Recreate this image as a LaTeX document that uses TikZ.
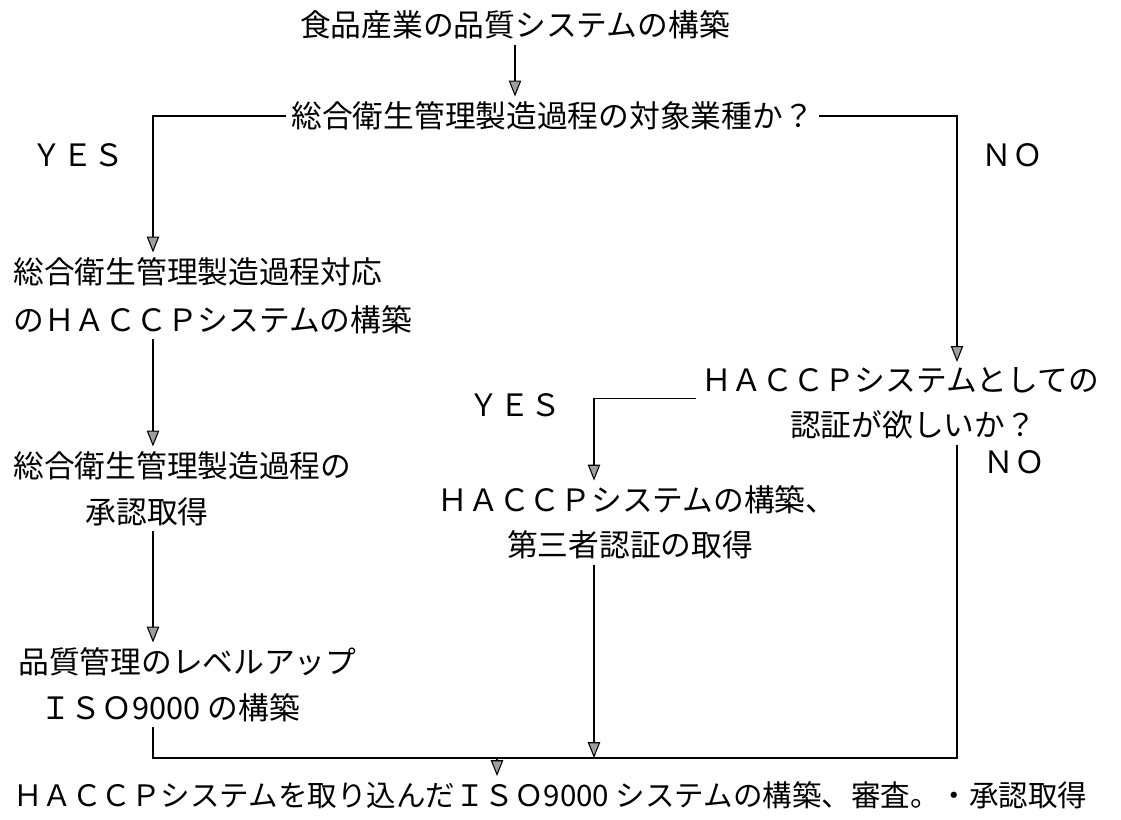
\documentclass[tikz,border=0pt]{standalone}
\usepackage{fontspec}
\newfontfamily\jpfont{Noto Sans CJK JP}
\usetikzlibrary{arrows.meta, positioning}

\tikzset{
  txt/.style={font=\jpfont\fontsize{17.5}{21}\selectfont, inner sep=0pt, outer sep=3pt, anchor=west},
  ln/.style={line width=0.6pt},
  arr/.style={ln, -{Triangle[width=7pt,length=9pt,fill=gray!75]}}
}

\begin{document}
\begin{tikzpicture}[x=0.02cm,y=-0.02cm]
        \useasboundingbox (0,0) rectangle (1121,819);
        % columns of the connectors
        \coordinate (colL) at (153,0);
        \coordinate (colM) at (594,0);
        \coordinate (colR) at (957,0);
        \coordinate (colB) at (497,0);
        \coordinate (bot) at (0,758);

        \node[txt, anchor=center] (title) at (515,25) {食品産業の品質システムの構築};
        \node[txt] (q1) at (286,116) {総合衛生管理製造過程の対象業種か？};
        \node[txt, anchor=center] (yes1) at (78,155) {ＹＥＳ};
        \node[txt, anchor=center] (no1) at (1012,155) {ＮＯ};

        \node[txt] (b1a) at (8,272) {総合衛生管理製造過程対応};
        \node[txt] (b1b) at (8,320) {のＨＡＣＣＰシステムの構築};
        \node[txt] (b2a) at (8,466) {総合衛生管理製造過程の};
        \node[txt, anchor=center] (b2b) at (147,512) {承認取得};
        \node[txt] (b3a) at (13,662) {品質管理のレベルアップ};
        \node[txt, anchor=center] (b3b) at (170,708) {ＩＳＯ9000 の構築};

        \node[txt, anchor=center] (q2a) at (900,380) {ＨＡＣＣＰシステムとしての};
        \node[txt, anchor=center] (q2b) at (913,425) {認証が欲しいか？};
        \node[txt, anchor=center] (yes2) at (515,405) {ＹＥＳ};
        \node[txt, anchor=center] (no2) at (1014,462) {ＮＯ};
        \node[txt, anchor=center] (b4a) at (637,500) {ＨＡＣＣＰシステムの構築、};
        \node[txt, anchor=center] (b4b) at (630,545) {第三者認証の取得};

        \node[txt, font=\jpfont\fontsize{16.8}{20}\selectfont] (fin) at (8,795) {ＨＡＣＣＰシステムを取り込んだＩＳＯ9000 システムの構築、審査。・承認取得};

        \draw[arr] (title.south) -- (title.south |- q1.north);
        \draw[arr] (q1.west) -| (b1a.north -| colL);
        \draw[arr] (q1.east) -| (q2a.north -| colR);
        \draw[arr] (b1b.south -| colL) -- (b2a.north -| colL);
        \draw[arr] (b2b.south -| colL) -- (b3a.north -| colL);

        \draw[arr] (q2a.south west) -| (b4a.north -| colM);
        \draw[arr] (b4b.south -| colM) -- (colM |- bot);

        \draw[ln] (b3b.south -| colL) -- (colL |- bot) -- (colR |- bot) -- (q2b.south -| colR);
        \draw[arr] (colB |- bot) -- (fin.north -| colB);
\end{tikzpicture}
\end{document}
